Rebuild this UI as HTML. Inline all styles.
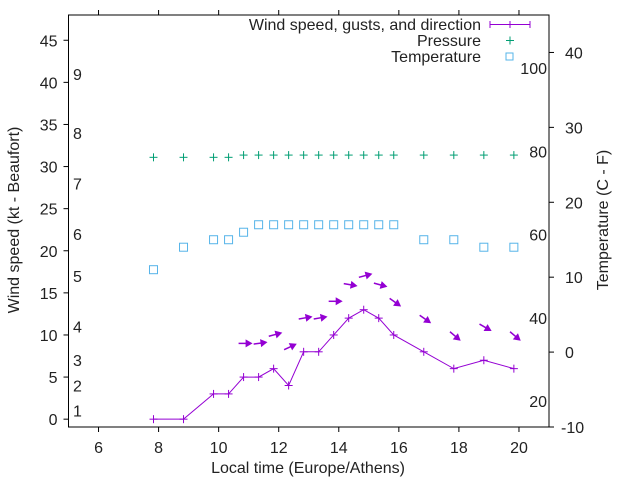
<!DOCTYPE html>
<html><head><meta charset="utf-8"><style>
html,body{margin:0;padding:0;background:#fff}
svg text{font-family:"Liberation Sans",sans-serif;font-size:16px;fill:#222}
</style></head><body>
<svg id="chart" width="640" height="480" xmlns="http://www.w3.org/2000/svg">
<g id="axes"></g>
<g id="marks"></g>
<g id="legend"></g>
</svg>
<script>
const times = [7.83,8.83,9.83,10.33,10.83,11.33,11.83,12.33,12.83,13.33,13.83,14.33,14.83,15.33,15.83,16.83,17.83,18.83,19.83];
const windSpeed = [0,0,3,3,5,5,6,4,8,8,10,12,13,12,10,8,6,7,6];
const gusts = [null,null,null,null,9,9,10,8.5,12,12,14,16,17,16,14,12,10,11,10];
const windDirAngle = [0,0,0,0,0,-8,-15,-25,-10,-10,0,10,-15,15,35,35,40,30,40];
const pressure = [1013,1013,1013,1013,1014,1014,1014,1014,1014,1014,1014,1014,1014,1014,1014,1014,1014,1014,1014];
const temperature = [11,14,15,15,16,17,17,17,17,17,17,17,17,17,17,15,15,14,14];
const xTicks = [6,8,10,12,14,16,18,20];
const yTicks = [0,5,10,15,20,25,30,35,40,45];
const y2Ticks = [-10,0,10,20,30,40];
const beaufortKt = [1,4,7,11,17,22,28,34,41];
const beaufortLabels = ['1','2','3','4','5','6','7','8','9'];
const fahrenheit = [20,40,60,80,100];

const L=68.5,R=549,T=15,B=427;
const X=t=>L+(t-5)*(R-L)/16;
const Y=v=>B-(v+0.93)*(B-T)/48.93;
const Y2=c=>B-(c+10)*(B-T)/55;
const YP=p=>Y2(26+(p-1013)*0.3);
const NS='http://www.w3.org/2000/svg';
function mk(tag,attrs,parent,txt){const e=document.createElementNS(NS,tag);for(const k in attrs)e.setAttribute(k,attrs[k]);if(txt!==undefined)e.textContent=txt;parent.appendChild(e);return e;}
const ax=document.getElementById('axes'),mg=document.getElementById('marks'),lg=document.getElementById('legend');
let e=mk('rect',{x:L,y:T,width:R-L,height:B-T,fill:'none',stroke:'#000','stroke-width':1},ax);

xTicks.forEach(t=>{
 e=mk('line',{x1:X(t),x2:X(t),y1:B,y2:B+5,stroke:'#000'},ax);
 e=mk('line',{x1:X(t),x2:X(t),y1:T,y2:T-5,stroke:'#000'},ax);
 e=mk('text',{x:X(t),y:B+26,'text-anchor':'middle'},ax,t);
});
yTicks.forEach(v=>{
 e=mk('line',{x1:L-5,x2:L,y1:Y(v),y2:Y(v),stroke:'#000'},ax);
 e=mk('text',{x:L-11,y:Y(v)+6,'text-anchor':'end'},ax,v);
});
y2Ticks.forEach(c=>{
 e=mk('line',{x1:R,x2:R+5,y1:Y2(c),y2:Y2(c),stroke:'#000'},ax);
 e=mk('text',{x:c<0?561:565,y:Y2(c)+6,'text-anchor':'start'},ax,c);
});
beaufortKt.forEach((k,i)=>{
 e=mk('text',{x:73,y:Y(k)+6},ax,beaufortLabels[i]);
});
fahrenheit.forEach(f=>{
 e=mk('text',{x:547,y:Y2((f-32)*5/9)+5,'text-anchor':'end'},ax,f);
});
e=mk('text',{x:308,y:473,'text-anchor':'middle'},ax,'Local time (Europe/Athens)');
e=mk('text',{x:0,y:0,'text-anchor':'middle',transform:'translate(19,220) rotate(-90)'},ax,'Wind speed (kt - Beaufort)');
e=mk('text',{x:0,y:0,'text-anchor':'middle',transform:'translate(608,220) rotate(-90)'},ax,'Temperature (C - F)');

const P='#9400d3',G='#009e73',C='#56b4e9';
function plus(x,y,col,name){const g=mk('g',{},mg);mk('line',{x1:x-4,x2:x+4,y1:y,y2:y,stroke:col},g);mk('line',{x1:x,x2:x,y1:y-4,y2:y+4,stroke:col},g);return g;}
let pts=times.map((t,i)=>X(t)+','+Y(windSpeed[i])).join(' ');
e=mk('polyline',{points:pts,fill:'none',stroke:P,'stroke-width':1},mg);
times.forEach((t,i)=>plus(X(t),Y(windSpeed[i]),P,'wind-speed-point'));
times.forEach((t,i)=>plus(X(t),YP(pressure[i]),G,'pressure-point'));
times.forEach((t,i)=>{e=mk('rect',{x:X(t)-4,y:Y2(temperature[i])-4,width:8,height:8,fill:'none',stroke:C},mg);});
times.forEach((t,i)=>{
 if(gusts[i]===null)return;
 const a=windDirAngle[i]*Math.PI/180,cx=X(t),cy=Y(gusts[i]);
 const dx=Math.cos(a),dy=Math.sin(a);
 const x0=cx-5*dx,y0=cy-5*dy,x1=cx+9*dx,y1=cy+9*dy;
 const g=mk('g',{},mg);
 mk('line',{x1:x0,y1:y0,x2:x1-5*dx,y2:y1-5*dy,stroke:P,'stroke-width':1.5},g);
 const bx=x1-7*dx,by=y1-7*dy;
 mk('polygon',{points:`${x1},${y1} ${bx-4*dy},${by+4*dx} ${bx+4*dy},${by-4*dx}`,fill:P},g);
});
e=mk('text',{x:481,y:30,'text-anchor':'end'},lg,'Wind speed, gusts, and direction');
e=mk('text',{x:481,y:46,'text-anchor':'end'},lg,'Pressure');
e=mk('text',{x:481,y:62,'text-anchor':'end'},lg,'Temperature');
const lgw=mk('g',{},lg);
mk('line',{x1:490,x2:530,y1:24.5,y2:24.5,stroke:P},lgw);mk('line',{x1:490,x2:490,y1:21,y2:28,stroke:P},lgw);mk('line',{x1:530,x2:530,y1:21,y2:28,stroke:P},lgw);mk('line',{x1:510,x2:510,y1:21,y2:28,stroke:P},lgw);
const lgp=mk('g',{},lg);
mk('line',{x1:506,x2:514,y1:40.5,y2:40.5,stroke:G},lgp);mk('line',{x1:510,x2:510,y1:36.5,y2:44.5,stroke:G},lgp);
e=mk('rect',{x:506,y:53,width:7,height:7,fill:'none',stroke:C},lg);
</script>
</body></html>
